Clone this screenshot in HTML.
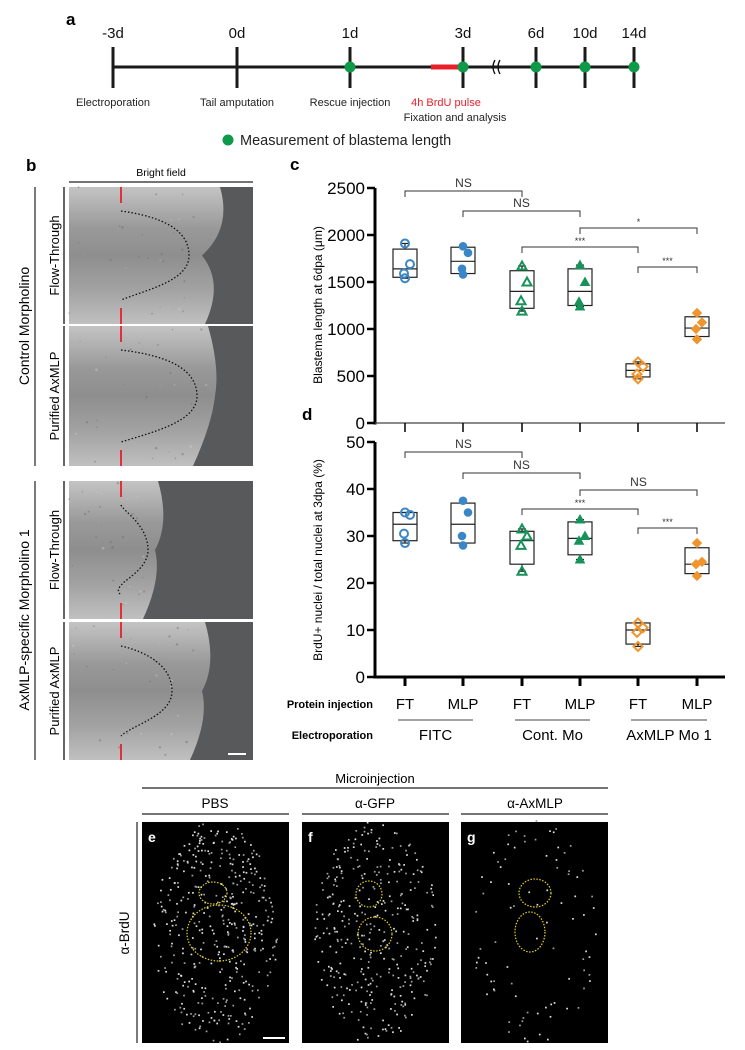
<!DOCTYPE html>
<html><head><meta charset="utf-8"><style>
html,body{margin:0;padding:0;background:#fff;}
svg{display:block;font-family:"Liberation Sans",Arial,sans-serif;}
</style></head><body>
<svg id="fig" width="745" height="1050" viewBox="0 0 745 1050" xmlns="http://www.w3.org/2000/svg">
<defs>
<linearGradient id="tissue" x1="0" y1="0" x2="0" y2="1">
<stop offset="0" stop-color="#c4c4c4"/><stop offset="0.3" stop-color="#999"/><stop offset="0.5" stop-color="#8e8e8e"/><stop offset="0.75" stop-color="#a2a2a2"/><stop offset="1" stop-color="#c0c0c0"/>
</linearGradient>
</defs>
<!-- Panel a -->
<g>
<text x="66" y="25" font-size="17" font-weight="bold">a</text>
<line x1="113" y1="67" x2="634" y2="67" stroke="#1a1a1a" stroke-width="3"/>
<line x1="431" y1="67" x2="463" y2="67" stroke="#e8202a" stroke-width="5"/>
<g id="tl" font-size="15" text-anchor="middle" fill="#111"></g>
<path d="M495,60 q-4,7 0,14 M500,60 q-4,7 0,14" stroke="#111" stroke-width="1.3" fill="none"/>
<g font-size="11" text-anchor="middle" fill="#222">
<text x="113" y="106">Electroporation</text>
<text x="237" y="106">Tail amputation</text>
<text x="350" y="106">Rescue injection</text>
<text x="446" y="106" fill="#e8202a">4h BrdU pulse</text>
<text x="455" y="121">Fixation and analysis</text>
</g>
<circle cx="228" cy="140" r="5.5" fill="#0f9a4a"/>
<text x="240" y="145" font-size="14.5" fill="#222">Measurement of blastema length</text>
</g>

<!-- Panel b -->
<g>
<text x="26" y="171" font-size="17" font-weight="bold">b</text>
<text x="161" y="176" font-size="10.5" text-anchor="middle">Bright field</text>
<line x1="69" y1="182" x2="253" y2="182" stroke="#222" stroke-width="1.2"/>
<line x1="35" y1="187" x2="35" y2="466" stroke="#222" stroke-width="1.2"/>
<line x1="35" y1="481" x2="35" y2="760" stroke="#222" stroke-width="1.2"/>
<text transform="translate(29,326) rotate(-90)" font-size="14" text-anchor="middle">Control Morpholino</text>
<text transform="translate(29,620) rotate(-90)" font-size="14" text-anchor="middle">AxMLP-specific Morpholino 1</text>
<g id="bimgs"></g>
</g>

<!-- Chart c -->
<g id="chartC">
<text x="290" y="170" font-size="17" font-weight="bold">c</text>
<text transform="translate(322,305) rotate(-90)" font-size="12" text-anchor="middle">Blastema length at 6dpa (μm)</text>
</g>
<!-- Chart d -->
<g id="chartD">
<text x="302" y="420" font-size="17" font-weight="bold">d</text>
<text transform="translate(322,560) rotate(-90)" font-size="12" text-anchor="middle">BrdU+ nuclei / total nuclei at 3dpa (%)</text>
</g>
<g id="xlab">
<text x="373" y="708" font-size="11" font-weight="bold" text-anchor="end">Protein injection</text>
<text x="373" y="739" font-size="11" font-weight="bold" text-anchor="end">Electroporation</text>
</g>

<!-- Bottom panels -->
<g>
<text x="375" y="783" font-size="13" text-anchor="middle">Microinjection</text>
<line x1="142" y1="788" x2="608" y2="788" stroke="#222" stroke-width="1.2"/>
<text x="215" y="808" font-size="13.5" text-anchor="middle">PBS</text>
<text x="375" y="808" font-size="13.5" text-anchor="middle">α-GFP</text>
<text x="535" y="808" font-size="13.5" text-anchor="middle">α-AxMLP</text>
<line x1="142" y1="814" x2="289" y2="814" stroke="#222" stroke-width="1.2"/>
<line x1="302" y1="814" x2="449" y2="814" stroke="#222" stroke-width="1.2"/>
<line x1="461" y1="814" x2="608" y2="814" stroke="#222" stroke-width="1.2"/>
<line x1="137" y1="822" x2="137" y2="1043" stroke="#222" stroke-width="1.2"/>
<text transform="translate(129,933) rotate(-90)" font-size="13.5" text-anchor="middle">α-BrdU</text>
<g id="fimgs"></g>
</g>
</svg>
<script>
var NS='http://www.w3.org/2000/svg';
function mk(tag,attrs,parent,txt){var e=document.createElementNS(NS,tag);for(var k in attrs)e.setAttribute(k,attrs[k]);if(txt!==undefined)e.textContent=txt;parent.appendChild(e);return e;}

// timeline
var tlLabels=['-3d','0d','1d','3d','6d','10d','14d'];
var tlX=[113,237,350,463,536,585,634];
var tlDot=[false,false,true,true,true,true,true];
var tl=document.getElementById('tl');
for(var i=0;i<tlLabels.length;i++){
  var t=mk('line',{x1:tlX[i],y1:47,x2:tlX[i],y2:88,stroke:'#1a1a1a','stroke-width':3},tl);
  
  
  var tx=mk('text',{x:tlX[i],y:38},tl,tlLabels[i]);
  
  
  if(tlDot[i]){var d=mk('circle',{cx:tlX[i],cy:67,r:5.5,fill:'#0f9a4a'},tl);
    
    }
}

var seed=7;function rnd(){seed=(seed*16807)%2147483647;return seed/2147483647;}

// panel b images
var bRows=[[187,324,200,220,189,'Flow-Through'],[326,466,213,208,197,'Purified AxMLP'],[481,619,153,158,148,'Flow-Through'],[622,760,200,205,172,'Purified AxMLP']];
var bg=document.getElementById('bimgs');
bRows.forEach(function(r,idx){
  var y0=r[0],y1=r[1],h=y1-y0,mid=(y0+y1)/2;
  var g=mk('g',{},bg);
  
  
  mk('rect',{x:69,y:y0,width:184,height:h,fill:'#58595b'},g);
  var ex=r[2],et=r[3];
  mk('path',{d:'M69,'+y0+' L'+(et)+','+y0+' Q'+(et+12)+','+(y0+h*0.3)+' '+(ex+2)+','+mid+' Q'+(et+4)+','+(y1-h*0.3)+' '+(et-15)+','+y1+' L69,'+y1+' Z',fill:'url(#tissue)'},g);
  for(var k=0;k<30;k++){mk('circle',{cx:69+rnd()*(ex-75),cy:y0+rnd()*h,r:0.5+rnd()*0.8,fill:rnd()<0.7?'#6a6a6a':'#cfcfcf',opacity:0.45},g);}
  mk('line',{x1:121,y1:y0,x2:121,y2:y0+16,stroke:'#e8202a','stroke-width':1.8},g);
  mk('line',{x1:121,y1:y1-16,x2:121,y2:y1,stroke:'#e8202a','stroke-width':1.8},g);
  var tip=r[4];
  mk('path',{d:'M121,'+(y0+24)+' C'+(tip-25)+','+(y0+30)+' '+tip+','+(mid-25)+' '+tip+','+mid+' C'+tip+','+(mid+25)+' '+(tip-40)+','+(y1-35)+' 121,'+(y1-24),fill:'none',stroke:'#111','stroke-width':1.3,'stroke-dasharray':'1.5,2'},g);
  mk('line',{x1:64,y1:y0,x2:64,y2:y1,stroke:'#333','stroke-width':1.5},g);
  var lt=mk('text',{transform:'translate(59,'+mid+') rotate(-90)','font-size':13,'text-anchor':'middle'},bg,r[5]);
  
  
  if(idx==3){mk('line',{x1:228,y1:754,x2:246,y2:754,stroke:'#fff','stroke-width':2},g);}
});

// chart data
var groups=['FT','MLP','FT','MLP','FT','MLP'];
var electro=['FITC','Cont. Mo','AxMLP Mo 1'];
var colors=['#3a87c8','#3a87c8','#17935a','#17935a','#f0952e','#f0952e'];
var markers=['ocircle','circle','otri','tri','odiam','diam'];
var cTicks=[0,500,1000,1500,2000,2500];
var cPoints=[[1910,1690,1590,1540],[1880,1810,1640,1580],[1670,1500,1300,1190],[1680,1500,1290,1240],[650,600,520,470],[1170,1070,1000,890]];
var cBoxes=[[1540,1550,1640,1850,1910],[1580,1590,1720,1870,1880],[1190,1220,1400,1620,1670],[1240,1250,1400,1640,1680],[470,490,560,630,650],[890,920,1010,1130,1170]];
var dTicks=[0,10,20,30,40,50];
var dPoints=[[35,34.5,30.5,28.5],[37.5,35,30,28],[31.5,30,28,22.5],[33.5,30,29,25],[11.5,10.5,9.5,6.5],[28.5,24.5,24,21.5]];
var dBoxes=[[28.5,29,32.5,35,35],[28,28.5,32.5,37,37.5],[22.5,24,29,31,31.5],[25,26,29.5,33,33.5],[6.5,7,10,11.5,11.5],[21.5,22,24,27.5,28.5]];
var cSig=[[0,2,'NS',191],[1,3,'NS',211],[3,5,'*',228],[2,4,'***',247],[4,5,'***',267]];
var dSig=[[0,2,'NS',452],[1,3,'NS',473],[3,5,'NS',490],[2,4,'***',509],[4,5,'***',528]];

var catX=[405,463,522,580,638,697];
function xPos(i){return catX[i];}

function drawChart(parent,ticks,points,boxes,sig,yTop,yBot,withX){
  var vmax=ticks[ticks.length-1];
  function y(v){return yBot-(v/vmax)*(yBot-yTop);}
  var g=document.getElementById(parent);
  var ax=mk('line',{x1:375,y1:yTop,x2:375,y2:yBot+1.5,stroke:'#000','stroke-width':3},g);
  
  
  var xa=mk('line',{x1:373.5,y1:yBot,x2:725,y2:yBot,stroke:withX?'#000':'#444','stroke-width':withX?3:1.2},g);
  
  
  ticks.forEach(function(t){
    mk('line',{x1:367,y1:y(t),x2:375,y2:y(t),stroke:'#000','stroke-width':2.5},g);
    var tl=mk('text',{x:365,y:y(t)+6,'font-size':17,'text-anchor':'end'},g,String(t));
    
    
  });
  for(var i=0;i<groups.length;i++){
    mk('line',{x1:xPos(i),y1:yBot,x2:xPos(i),y2:yBot+9,stroke:'#000','stroke-width':withX?3:1.5},g);
    var bx=boxes[i],cx=xPos(i),bw=12;
    var bg2=mk('g',{},g);
    
    
    mk('line',{x1:cx,y1:y(bx[0]),x2:cx,y2:y(bx[1]),stroke:'#222','stroke-width':1.2},bg2);
    mk('line',{x1:cx,y1:y(bx[3]),x2:cx,y2:y(bx[4]),stroke:'#222','stroke-width':1.2},bg2);
    mk('line',{x1:cx-4,y1:y(bx[0]),x2:cx+4,y2:y(bx[0]),stroke:'#222','stroke-width':1.2},bg2);
    mk('line',{x1:cx-4,y1:y(bx[4]),x2:cx+4,y2:y(bx[4]),stroke:'#222','stroke-width':1.2},bg2);
    mk('rect',{x:cx-bw,y:y(bx[3]),width:bw*2,height:y(bx[1])-y(bx[3]),fill:'none',stroke:'#222','stroke-width':1.2},bg2);
    mk('line',{x1:cx-bw,y1:y(bx[2]),x2:cx+bw,y2:y(bx[2]),stroke:'#222','stroke-width':1.2},bg2);
    var offs=[0,2,-2,0];
    points[i].forEach(function(v,j){
      var px=cx+offs[j]*(j%2?1:-1)+(j==1?3:(j==2?-3:0)),py=y(v),m=markers[i],col=colors[i],el;
      var open=m.charAt(0)=='o';
      var st={fill:open?'none':col,stroke:col,'stroke-width':open?2:1};
      if(m.indexOf('circle')>=0){st.cx=px;st.cy=py;st.r=open?4:3.8;el=mk('circle',st,bg2);}
      else if(m.indexOf('tri')>=0){st.points=(px)+','+(py-4.5)+' '+(px+4.5)+','+(py+3.5)+' '+(px-4.5)+','+(py+3.5);el=mk('polygon',st,bg2);}
      else {st.points=(px)+','+(py-4.5)+' '+(px+4.5)+','+py+' '+(px)+','+(py+4.5)+' '+(px-4.5)+','+py;el=mk('polygon',st,bg2);}
      
      
    });
  }
  sig.forEach(function(s){
    var x1=xPos(s[0]),x2=xPos(s[1]),yy=s[3];
    var sg=mk('g',{},g);
    
    
    mk('path',{d:'M'+x1+','+(yy+6)+' L'+x1+','+yy+' L'+x2+','+yy+' L'+x2+','+(yy+6),fill:'none',stroke:'#333','stroke-width':1},sg);
    mk('text',{x:(x1+x2)/2,y:yy-(s[2]=='NS'?4:3),'font-size':s[2]=='NS'?12:9,'text-anchor':'middle',fill:'#333'},sg,s[2]);
  });
}
drawChart('chartC',cTicks,cPoints,cBoxes,cSig,188,423,false);
drawChart('chartD',dTicks,dPoints,dBoxes,dSig,442,677,true);

var xl=document.getElementById('xlab');
for(var i=0;i<groups.length;i++){
  var t=mk('text',{x:xPos(i),y:709,'font-size':15,'text-anchor':'middle'},xl,groups[i]);
  
  
}
for(var k=0;k<3;k++){
  var a=xPos(2*k)-7,b=xPos(2*k+1)+10;
  mk('line',{x1:a,y1:720,x2:b,y2:720,stroke:'#444','stroke-width':1},xl);
  var t2=mk('text',{x:(a+b)/2,y:740,'font-size':15,'text-anchor':'middle'},xl,electro[k]);
  
  
}

// bottom fluorescence images
var fImgs=[[142,'e',[[213,893,14,11],[219,933,32,28]],420],[302,'f',[[369,894,13,13],[375,934,17,17]],360],[461,'g',[[535,893,16,14],[530,932,15,20]],160]];
var fg=document.getElementById('fimgs');
fImgs.forEach(function(f,idx){
  var x0=f[0],g=mk('g',{},fg);
  
  
  mk('rect',{x:x0,y:822,width:147,height:221,fill:'#000'},g);
  var cxm=x0+73;
  for(var k=0;k<f[3];k++){
    var ang=rnd()*Math.PI*2,rr=Math.sqrt(rnd());
    var px=cxm+Math.cos(ang)*rr*(idx==2?62:62),py=932+Math.sin(ang)*rr*112;
    if(idx==2&&rr<0.8&&rnd()<0.7)continue;
    mk('rect',{x:px,y:py,width:1.7,height:1.7,fill:rnd()<0.5?'#e0e0e0':'#a0a0a0'},g);
  }
  f[2].forEach(function(c){
    mk('ellipse',{cx:c[0],cy:c[1],rx:c[2],ry:c[3],fill:'none',stroke:'#e8d21a','stroke-width':1.2,'stroke-dasharray':'1.5,1.5'},g);
  });
  var lt=mk('text',{x:x0+6,y:842,'font-size':14,'font-weight':'bold',fill:'#fff'},g,f[1]);
  
  
  if(idx==0)mk('line',{x1:263,y1:1038,x2:285,y2:1038,stroke:'#fff','stroke-width':2},g);
});
</script>
</body></html>
